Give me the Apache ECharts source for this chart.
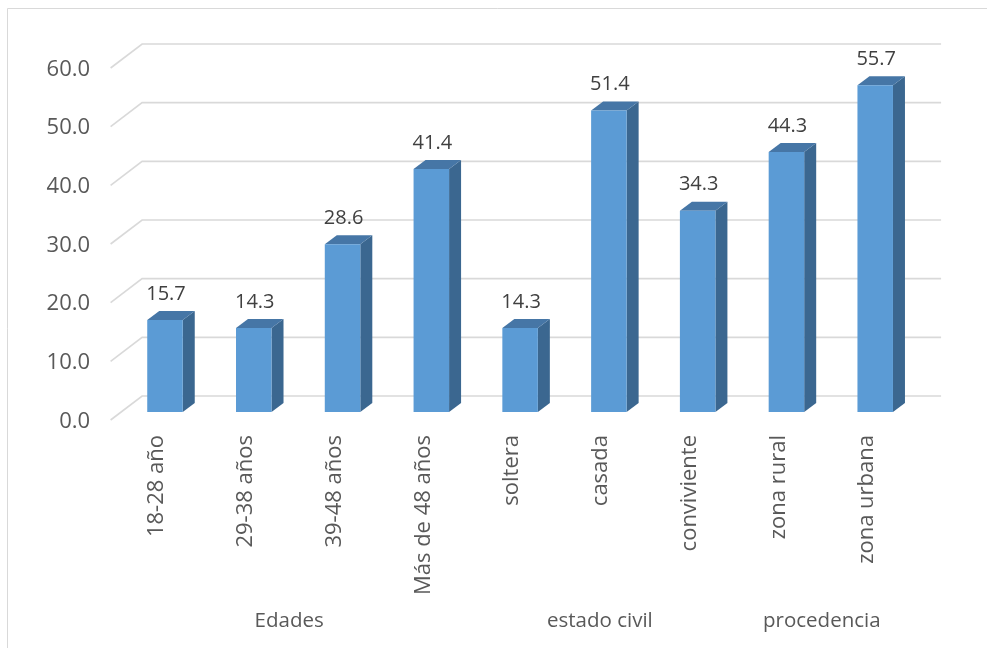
<!DOCTYPE html>
<html>
<head>
<meta charset="utf-8">
<script src="https://cdn.jsdelivr.net/npm/echarts@6/dist/echarts.min.js"></script>
<style>
html,body{margin:0;padding:0;background:#fff;}
#chart{width:987px;height:648px;}
</style>
</head>
<body>
<div id="chart"></div>
<script>
const categories = ['18-28 año','29-38 años','39-48 años','Más de 48 años','soltera','casada','conviviente','zona rural','zona urbana'];
const values = [15.7, 14.3, 28.6, 41.4, 14.3, 51.4, 34.3, 44.3, 55.7];
const yTicks = [0, 10, 20, 30, 40, 50, 60];
const yTickLabels = ['0.0', '10.0', '20.0', '30.0', '40.0', '50.0', '60.0'];
const groupNames = ['Edades', 'estado civil', 'procedencia'];
const groupFrom = [0, 4, 7];
const groupTo = [3, 6, 8];

const FONT = 'Open Sans';
// pseudo-3D offsets
const BACK_DX = 21.5, BACK_DY = -16;
const FRONT_DX = -10, FRONT_DY = 8;
const BAR_DX = 12, BAR_DY = -9;

const chart = echarts.init(document.getElementById('chart'));

const option = {
  backgroundColor: '#ffffff',
  animation: false,
  graphic: [{
    type: 'rect',
    shape: {x: 7.5, y: 8.5, width: 1000, height: 700},
    style: {fill: 'none', stroke: '#D9D9D9', lineWidth: 1},
    silent: true, z: -10
  }],
  grid: {left: 120.6, right: 67.4, top: 60, bottom: 236},
  xAxis: {
    type: 'category',
    data: categories,
    axisLine: {show: false},
    axisTick: {show: false},
    splitLine: {show: false},
    axisLabel: {show: false}
  },
  yAxis: {
    type: 'value',
    min: 0, max: 60, interval: 10,
    axisLine: {show: false},
    axisTick: {show: false},
    splitLine: {show: false},
    axisLabel: {show: false}
  },
  series: [
    {
      type: 'custom',
      name: 'grid',
      silent: true,
      z: 1,
      data: yTicks.map(v => [0, v]),
      encode: {x: 0, y: 1},
      renderItem: function (params, api) {
        const cs = params.coordSys;
        const y = api.coord([0, api.value(1)])[1];
        return {
          type: 'group',
          children: [
            {
              type: 'polyline',
              shape: {points: [
                [cs.x + FRONT_DX, y + FRONT_DY],
                [cs.x + BACK_DX, y + BACK_DY],
                [cs.x + cs.width + BACK_DX, y + BACK_DY]
              ]},
              style: {stroke: '#D9D9D9', lineWidth: 1.6, fill: 'none'}
            },
            {
              type: 'text',
              style: {
                x: cs.x - 30.5, y: y + 9.5,
                text: yTickLabels[params.dataIndex],
                fontSize: 22, fontFamily: FONT, fill: '#595959',
                align: 'right', verticalAlign: 'middle'
              }
            }
          ]
        };
      }
    },
    {
      type: 'custom',
      name: 'categorias',
      silent: true,
      z: 5,
      data: categories.map((c, i) => [i, 0]),
      encode: {x: 0, y: 1},
      renderItem: function (params, api) {
        const p = api.coord([api.value(0), 0]);
        return {
          type: 'text',
          x: p[0] - 8, y: p[1] + 23,
          rotation: Math.PI / 2,
          style: {
            x: 0, y: 0,
            text: categories[params.dataIndex],
            fontSize: 22, fontFamily: FONT, fill: '#595959',
            align: 'right', verticalAlign: 'middle'
          }
        };
      }
    },
    {
      type: 'custom',
      name: 'valores',
      z: 5,
      data: values.map((v, i) => [i, v]),
      encode: {x: 0, y: 1},
      renderItem: function (params, api) {
        const base = api.coord([api.value(0), 0]);
        const top = api.coord([api.value(0), api.value(1)]);
        const w = api.size([1, 0])[0] * 0.4;
        const x0 = top[0] - w / 2;
        const y0 = top[1];
        const yb = base[1];
        return {
          type: 'group',
          children: [
            {
              type: 'polygon',
              shape: {points: [[x0 + w, y0], [x0 + w + BAR_DX, y0 + BAR_DY], [x0 + w + BAR_DX, yb + BAR_DY], [x0 + w, yb]]},
              style: {fill: '#3B6790'}
            },
            {
              type: 'polygon',
              shape: {points: [[x0, y0], [x0 + BAR_DX, y0 + BAR_DY], [x0 + w + BAR_DX, y0 + BAR_DY], [x0 + w, y0]]},
              style: {fill: '#4676A6'}
            },
            {
              type: 'rect',
              shape: {x: x0, y: y0, width: w, height: yb - y0},
              style: {fill: '#5B9BD5'}
            },
            {
              type: 'text',
              style: {
                x: top[0] + 1, y: y0 - 26,
                text: api.value(1).toFixed(1),
                fontSize: 20, fontFamily: FONT, fill: '#404040',
                align: 'center', verticalAlign: 'middle'
              }
            }
          ]
        };
      }
    },
    {
      type: 'custom',
      name: 'grupos',
      silent: true,
      z: 5,
      data: groupNames.map((n, i) => [groupFrom[i], 0, groupTo[i]]),
      encode: {x: 0, y: 1},
      renderItem: function (params, api) {
        const cs = params.coordSys;
        const idx = params.dataIndex;
        const a = api.coord([api.value(0), 0])[0];
        const b = api.coord([api.value(2), 0])[0];
        return {
          type: 'text',
          style: {
            x: (a + b) / 2 - 9, y: cs.y + cs.height + 209,
            text: groupNames[idx],
            fontSize: 20.5, fontFamily: FONT, fill: '#595959',
            align: 'center', verticalAlign: 'middle'
          }
        };
      }
    }
  ]
};
chart.setOption(option);
</script>
</body>
</html>
